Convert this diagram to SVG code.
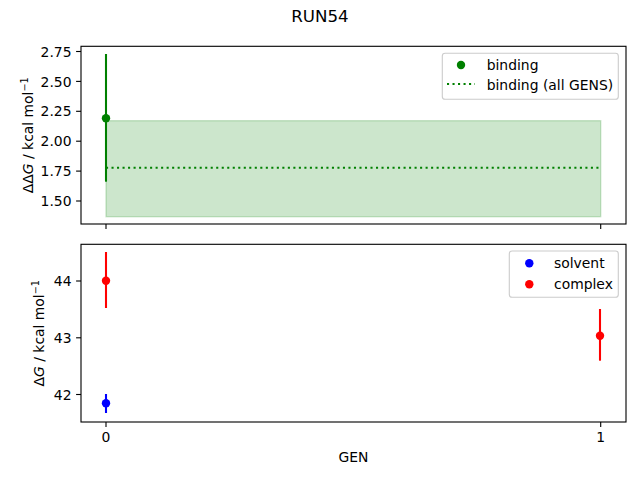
<svg xmlns="http://www.w3.org/2000/svg" width="640" height="480" viewBox="0 0 640 480">
<style>
text{font-family:"DejaVu Sans","Liberation Sans",sans-serif;fill:#000}
.t{font-size:13.9px}
.yt{font-size:13.9px;text-anchor:end}
.xt{font-size:13.9px;text-anchor:middle}
.spine{fill:none;stroke:#000;stroke-width:1.11}
.tick{stroke:#000;stroke-width:1.11}
.leg{fill:#fff;fill-opacity:0.8;stroke:#ccc;stroke-width:1.11}
</style>
<rect width="640" height="480" fill="#fff"/>
<text x="320" y="21.7" style="font-size:16.67px" text-anchor="middle">RUN54</text>

<g id="top-axes">
  <rect x="81" y="46.3" width="545" height="177.7" fill="#fff"/>
  <rect id="band" x="106" y="120.7" width="494.7" height="96" fill="#008000" fill-opacity="0.2" stroke="#008000" stroke-opacity="0.2" stroke-width="1.39"/>
  <line x1="106" y1="167.7" x2="600.7" y2="167.7" stroke="#008000" stroke-width="2.08" stroke-dasharray="2.08 3.43"/>
  <line x1="106" y1="54" x2="106" y2="181.7" stroke="#008000" stroke-width="2.08"/>
  <circle cx="106" cy="118.3" r="4.2" fill="#008000"/>
  <rect class="spine" x="81" y="46.3" width="545" height="177.7"/>
  <g class="tick">
    <line x1="76.1" y1="51.5" x2="81" y2="51.5"/>
    <line x1="76.1" y1="81.4" x2="81" y2="81.4"/>
    <line x1="76.1" y1="111.3" x2="81" y2="111.3"/>
    <line x1="76.1" y1="141.2" x2="81" y2="141.2"/>
    <line x1="76.1" y1="171.1" x2="81" y2="171.1"/>
    <line x1="76.1" y1="201" x2="81" y2="201"/>
    <line x1="106" y1="224" x2="106" y2="228.9"/>
    <line x1="600.7" y1="224" x2="600.7" y2="228.9"/>
  </g>
  <text class="yt" x="71.5" y="56.6">2.75</text>
  <text class="yt" x="71.5" y="86.5">2.50</text>
  <text class="yt" x="71.5" y="116.4">2.25</text>
  <text class="yt" x="71.5" y="146.3">2.00</text>
  <text class="yt" x="71.5" y="176.2">1.75</text>
  <text class="yt" x="71.5" y="206.1">1.50</text>
  <text class="t" transform="translate(32.5,135.2) rotate(-90)" text-anchor="middle">ΔΔ<tspan font-style="italic">G</tspan> / kcal mol<tspan dy="-5" font-size="9.7">−1</tspan></text>
  <g id="legend-top">
    <rect class="leg" x="442.3" y="53.3" width="176" height="46" rx="2.8"/>
    <circle cx="461" cy="65" r="4.2" fill="#008000"/>
    <text class="t" x="486.7" y="69.8">binding</text>
    <line x1="447" y1="84" x2="475" y2="84" stroke="#008000" stroke-width="2.08" stroke-dasharray="2.08 3.43"/>
    <text class="t" x="486.7" y="89.5">binding (all GENS)</text>
  </g>
</g>

<g id="bottom-axes">
  <rect x="81" y="244.3" width="545" height="177.7" fill="#fff"/>
  <line x1="106" y1="252" x2="106" y2="308" stroke="#ff0000" stroke-width="2.08"/>
  <circle cx="106" cy="280.7" r="4.2" fill="#ff0000"/>
  <line x1="106" y1="394" x2="106" y2="413" stroke="#0000ff" stroke-width="2.08"/>
  <circle cx="106" cy="403.3" r="4.2" fill="#0000ff"/>
  <line x1="600" y1="309" x2="600" y2="360.7" stroke="#ff0000" stroke-width="2.08"/>
  <circle cx="600" cy="335.7" r="4.2" fill="#ff0000"/>
  <rect class="spine" x="81" y="244.3" width="545" height="177.7"/>
  <g class="tick">
    <line x1="76.1" y1="281" x2="81" y2="281"/>
    <line x1="76.1" y1="337.8" x2="81" y2="337.8"/>
    <line x1="76.1" y1="394.5" x2="81" y2="394.5"/>
    <line x1="106" y1="422" x2="106" y2="426.9"/>
    <line x1="600.7" y1="422" x2="600.7" y2="426.9"/>
  </g>
  <text class="yt" x="71.5" y="286.1">44</text>
  <text class="yt" x="71.5" y="342.9">43</text>
  <text class="yt" x="71.5" y="399.6">42</text>
  <text class="xt" x="106" y="442.3">0</text>
  <text class="xt" x="600.7" y="442.3">1</text>
  <text class="xt" x="353.5" y="462">GEN</text>
  <text class="t" transform="translate(44,333.2) rotate(-90)" text-anchor="middle">Δ<tspan font-style="italic">G</tspan> / kcal mol<tspan dy="-5" font-size="9.7">−1</tspan></text>
  <g id="legend-bottom">
    <rect class="leg" x="509.3" y="251" width="109" height="46.3" rx="2.8"/>
    <circle cx="529.3" cy="263.3" r="4.2" fill="#0000ff"/>
    <text class="t" x="554" y="268.1">solvent</text>
    <circle cx="529.3" cy="284.3" r="4.2" fill="#ff0000"/>
    <text class="t" x="554" y="289.1">complex</text>
  </g>
</g>
</svg>
